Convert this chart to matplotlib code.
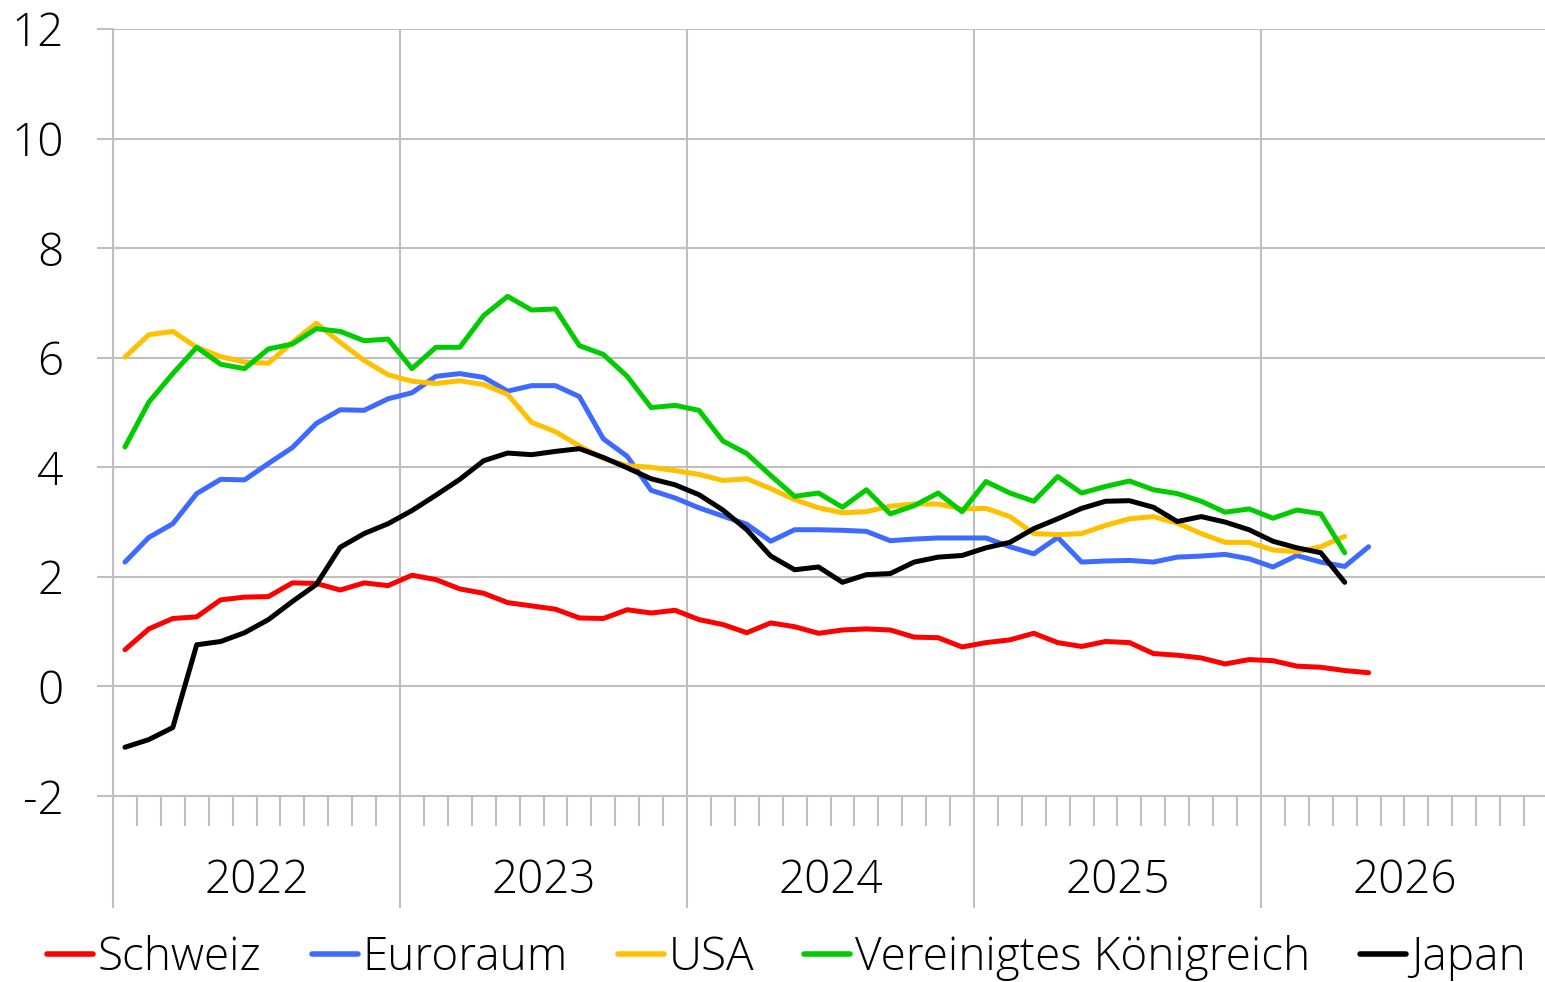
import matplotlib.pyplot as plt
from matplotlib.ticker import FixedLocator, NullFormatter
from matplotlib.lines import Line2D

plt.rcParams['font.family'] = ['Open Sans', 'DejaVu Sans']
plt.rcParams['font.weight'] = 'light'

# Kerninflation in %, Monatswerte ab Januar 2022
schweiz = [0.67, 1.05, 1.24, 1.27, 1.58, 1.63, 1.64, 1.89, 1.88, 1.76, 1.89, 1.84,
           2.03, 1.95, 1.78, 1.70, 1.53, 1.47, 1.41, 1.25, 1.24, 1.40, 1.34, 1.39,
           1.22, 1.13, 0.98, 1.16, 1.09, 0.97, 1.03, 1.05, 1.03, 0.90, 0.89, 0.72,
           0.80, 0.85, 0.97, 0.80, 0.73, 0.82, 0.80, 0.60, 0.57, 0.52, 0.41, 0.49,
           0.47, 0.37, 0.35, 0.29, 0.25]
euroraum = [2.27, 2.72, 2.97, 3.52, 3.78, 3.77, 4.07, 4.36, 4.80, 5.05, 5.04, 5.25,
            5.36, 5.66, 5.71, 5.64, 5.39, 5.49, 5.49, 5.29, 4.52, 4.20, 3.58, 3.44,
            3.26, 3.11, 2.96, 2.65, 2.86, 2.86, 2.85, 2.83, 2.66, 2.69, 2.71, 2.71,
            2.71, 2.55, 2.42, 2.72, 2.27, 2.29, 2.30, 2.27, 2.36, 2.38, 2.41, 2.33,
            2.18, 2.39, 2.27, 2.19, 2.55]
usa = [6.01, 6.42, 6.48, 6.19, 6.02, 5.92, 5.90, 6.28, 6.63, 6.28, 5.95, 5.69,
       5.57, 5.53, 5.58, 5.51, 5.33, 4.82, 4.65, 4.39, 4.16, 4.03, 4.00, 3.94,
       3.87, 3.76, 3.79, 3.61, 3.41, 3.26, 3.17, 3.19, 3.29, 3.33, 3.33, 3.24,
       3.25, 3.10, 2.79, 2.77, 2.79, 2.94, 3.06, 3.10, 2.98, 2.79, 2.63, 2.63,
       2.49, 2.46, 2.55, 2.74]
uk = [4.37, 5.19, 5.71, 6.19, 5.88, 5.80, 6.16, 6.25, 6.53, 6.48, 6.31, 6.34,
      5.80, 6.19, 6.19, 6.77, 7.12, 6.87, 6.89, 6.22, 6.06, 5.66, 5.09, 5.13,
      5.04, 4.48, 4.25, 3.85, 3.47, 3.53, 3.27, 3.59, 3.15, 3.30, 3.53, 3.19,
      3.74, 3.53, 3.38, 3.83, 3.53, 3.65, 3.75, 3.59, 3.52, 3.38, 3.18, 3.24,
      3.07, 3.22, 3.15, 2.44]
japan = [-1.11, -0.97, -0.75, 0.76, 0.82, 0.98, 1.22, 1.55, 1.86, 2.54, 2.79, 2.97,
         3.21, 3.49, 3.78, 4.12, 4.26, 4.23, 4.29, 4.34, 4.18, 3.99, 3.79, 3.68,
         3.50, 3.22, 2.86, 2.38, 2.13, 2.18, 1.90, 2.04, 2.06, 2.27, 2.36, 2.39,
         2.53, 2.63, 2.88, 3.06, 3.25, 3.38, 3.39, 3.27, 3.01, 3.10, 3.00, 2.86,
         2.65, 2.53, 2.44, 1.90]

years = ['2022', '2023', '2024', '2025', '2026']
series = [('Schweiz', schweiz, '#ff0000'),
          ('Euroraum', euroraum, '#3d6bff'),
          ('USA', usa, '#ffc000'),
          ('Vereinigtes Königreich', uk, '#00cc00'),
          ('Japan', japan, '#000000')]

grid_col = '#bfbfbf'
fs = 33

fig = plt.figure(figsize=(15.45, 9.82), dpi=100)
ax = fig.add_axes([113 / 1545, 1 - 796 / 982, (1548 - 113) / 1545, (796 - 29) / 982])

for name, vals, col in series:
    ax.plot(range(len(vals)), vals, color=col, lw=3.6,
            solid_joinstyle='round', solid_capstyle='round', label=name)

n_months = 12 * len(years)
ax.set_xlim(-0.5, n_months - 0.5)
ax.set_ylim(-2, 12)

# y-Achse
ax.set_yticks(range(-2, 13, 2))
ax.set_yticklabels([str(v) for v in range(-2, 13, 2)], fontsize=fs)
ax.tick_params(axis='y', length=11.5, width=1.5, color=grid_col, pad=24)
ax.yaxis.grid(True, color=grid_col, lw=1.5)

# x-Achse: Jahresgrenzen lang, Monatsstriche kurz
ax.xaxis.set_major_locator(FixedLocator([-0.5 + 12 * k for k in range(len(years) + 1)]))
ax.xaxis.set_major_formatter(NullFormatter())
ax.xaxis.set_minor_locator(FixedLocator([-0.5 + k for k in range(n_months + 1)]))
ax.tick_params(axis='x', which='major', length=80.6, width=1.5, color=grid_col)
ax.tick_params(axis='x', which='minor', length=21.6, width=1.5, color=grid_col)
ax.xaxis.grid(True, which='major', color=grid_col, lw=1.5)

for k, yr in enumerate(years):
    ax.text(5.5 + 12 * k, -0.111, yr, transform=ax.get_xaxis_transform(),
            ha='center', va='center', fontsize=fs)

for side in ['top', 'right']:
    ax.spines[side].set_visible(False)
for side in ['left', 'bottom']:
    ax.spines[side].set_color(grid_col)
    ax.spines[side].set_linewidth(1.5)
ax.set_axisbelow(True)

handles = [Line2D([], [], color=col, lw=4.0, solid_capstyle='round') for _, _, col in series]
fig.legend(handles, [s[0] for s in series], loc='center', bbox_to_anchor=(0.509, 0.024),
           ncol=5, frameon=False, fontsize=fs, handlelength=1.0, handletextpad=0.1,
           columnspacing=1.1, borderpad=0, borderaxespad=0)

fig.savefig('out.png', dpi=100)
